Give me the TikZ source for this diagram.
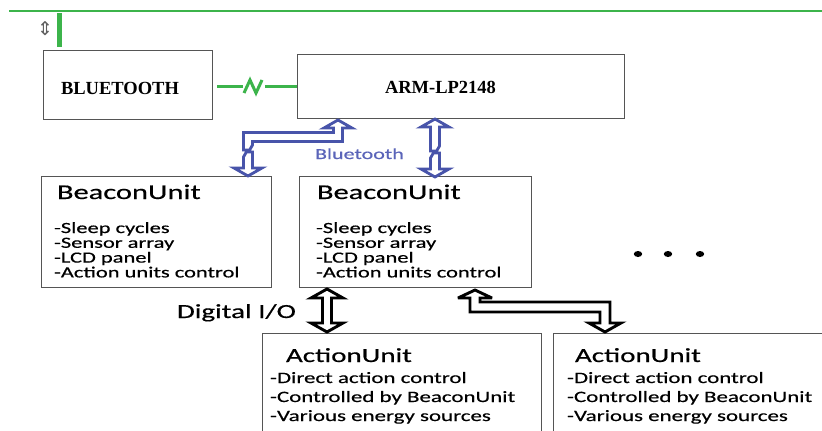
\documentclass[tikz,border=0pt]{standalone}
\usepackage{fontspec}
\newfontfamily\calw[FakeStretch=1.45,FakeBold=0.5]{Carlito}
\newfontfamily\timb{Liberation Serif}
\newfontfamily\dejavu{DejaVu Sans}
\definecolor{grn}{RGB}{60,180,75}
\definecolor{arrblue}{RGB}{72,84,170}
\definecolor{txtblue}{RGB}{90,100,185}
\definecolor{boxgray}{RGB}{85,85,85}
\tikzset{
  box/.style={draw=boxgray, line width=0.9pt, anchor=north west, inner sep=0pt, outer sep=0pt},
  txt/.style={anchor=base west, inner sep=0pt, outer sep=0pt},
  bluearrow/.style={draw=arrblue, line width=2.8pt, fill=white, line join=miter, miter limit=4},
  blackarrow/.style={draw=black, line width=2.9pt, fill=white, line join=miter, miter limit=4},
  ttl/.style={txt, font={\calw\fontsize{21}{21}\selectfont}},
  bdy/.style={txt, font={\calw\fontsize{15.5}{15.5}\selectfont}},
  attl/.style={txt, font={\calw\fontsize{20}{20}\selectfont}},
  abdy/.style={txt, font={\calw\fontsize{15.8}{15.8}\selectfont}},
  serifb/.style={txt, font={\timb\bfseries\fontsize{18.5}{18.5}\selectfont}}
}
\begin{document}
\begin{tikzpicture}[x=1pt,y=-1pt]
\useasboundingbox (0,0) rectangle (822,431);
\clip (0,0) rectangle (822,431);
\fill[white] (0,0) rectangle (822,431);

% top green line and marker
\coordinate (gl0) at (9,11);
\coordinate (gl1) at (830,11);
\draw[grn, line width=2pt] (gl0) -- (gl1);
\coordinate (gv0) at (59,13);
\coordinate (gv1) at (59,47);
\draw[grn, line width=5pt] (gv0) -- (gv1);
\node[inner sep=0pt, text=gray!75!black, font={\dejavu\fontsize{19}{19}\selectfont}] (updown) at (45,29) {⇕};

% boxes
\node[box, minimum width=169pt, minimum height=69pt] (btbox) at (43,50) {};
\node[box, minimum width=327pt, minimum height=64pt] (arm) at (297,54) {};
\node[box, minimum width=230pt, minimum height=111pt] (beaconL) at (41,176) {};
\node[box, minimum width=232pt, minimum height=111pt] (beaconM) at (299,176) {};
\node[box, minimum width=279pt, minimum height=130pt] (actL) at (262,333) {};
\node[box, minimum width=300pt, minimum height=130pt] (actR) at (553,333) {};

% top texts
\node[serifb] (bttext) at (61,94) {BLUETOOTH};
\node[serifb] (armtext) at (385,93) {ARM-LP2148};

% green link
\coordinate (gA) at (217,86);
\coordinate (gB) at (243,86);
\coordinate (gC) at (265,86);
\draw[grn, line width=3pt] (gA) -- (gB);
\draw[grn, line width=3pt] (gC) -- (arm.west |- gC);
\draw[grn, line width=3pt, line join=miter, miter limit=3] (244,93) -- (250,80) -- (256,93) -- (262,80);

% beacon texts
\node[ttl] (bLt) at (57,199) {BeaconUnit};
\node[ttl] (bMt) at (317,199) {BeaconUnit};
\foreach \t [count=\i] in {-Sleep cycles,-Sensor array,-LCD panel,-Action units control}{
  \node[bdy] (bLb\i) at (54,{233+14.8*(\i-1)}) {\t};
  \node[bdy] (bMb\i) at (316,{233+14.8*(\i-1)}) {\t};
}

% action texts
\node[attl] (aLt) at (286,362) {ActionUnit};
\node[attl] (aRt) at (575,362) {ActionUnit};
\foreach \t [count=\i] in {-Direct action control,-Controlled by BeaconUnit,-Various energy sources}{
  \node[abdy] (aLb\i) at (270,{383+19*(\i-1)}) {\t};
  \node[abdy] (aRb\i) at (567,{383+19*(\i-1)}) {\t};
}

% labels
\node[txt, text=txtblue, font={\calw\fontsize{15.2}{15.2}\selectfont}] (bluelbl) at (315,159) {Bluetooth};
\node[txt, font={\calw\fontsize{20}{20}\selectfont}] (diglbl) at (177,318) {Digital I/O};

% dots
\foreach \x [count=\i] in {638,668,700}{
  \fill[black] (\x,254) ellipse [x radius=4.2pt, y radius=3pt];
}

% blue bent arrow ARM -> left beacon
\draw[bluearrow] (338,120) -- (352,128) -- (342.5,128) -- (342.5,141.5) -- (252.5,141.5)
  -- (252.5,145) -- (248.5,152) -- (252.5,152) -- (252.5,168) -- (262,168) -- (248,176)
  -- (234,168) -- (243.5,168) -- (243.5,157) -- (247.5,150) -- (243.5,150)
  -- (243.5,132.5) -- (333.5,132.5) -- (333.5,128) -- (324,128) -- cycle;

% blue straight arrow ARM <-> middle beacon
\draw[bluearrow] (435,119) -- (449,127) -- (439.5,127) -- (439.5,146) -- (435.5,153) -- (439.5,153)
  -- (439.5,169) -- (449,169) -- (435,177) -- (421,169) -- (430.5,169) -- (430.5,158)
  -- (434.5,151) -- (430.5,151) -- (430.5,127) -- (421,127) -- cycle;

% black straight arrow beacon <-> action
\draw[blackarrow] (327,289) -- (343,298) -- (331.5,298) -- (331.5,323) -- (343,323) -- (327,332)
  -- (311,323) -- (322.5,323) -- (322.5,298) -- (311,298) -- cycle;

% black bent arrow beacon <-> right action
\draw[blackarrow] (475,290) -- (492,298) -- (480,298) -- (480,302) -- (610,302) -- (610,323)
  -- (621,323) -- (605,332) -- (589,323) -- (600,323) -- (600,312) -- (470,312) -- (470,298)
  -- (458,298) -- cycle;
\end{tikzpicture}
\end{document}
